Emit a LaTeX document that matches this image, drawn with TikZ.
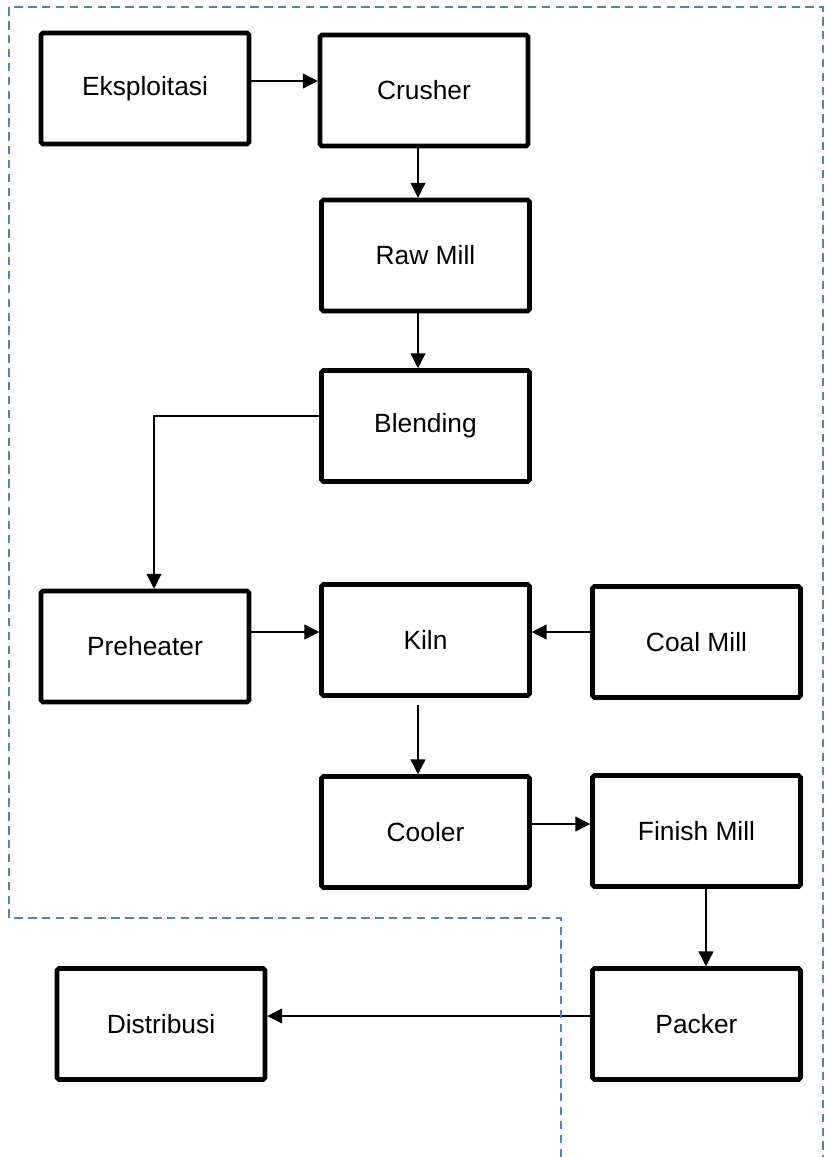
\documentclass[tikz,border=0pt]{standalone}
\usepackage{fontspec}
\setmainfont{Liberation Sans}
\usetikzlibrary{arrows.meta}
\definecolor{dashblue}{HTML}{4F81BD}

\begin{document}
\begin{tikzpicture}[x=0.02cm, y=-0.02cm,
    box/.style={draw, line width=2.6pt, rounded corners=1pt, minimum width=4.16cm,
                minimum height=2.22cm, inner sep=0pt, font=\fontsize{15}{18}\selectfont},
    arr/.style={-{Triangle[length=8.5pt,width=8.5pt]}, line width=0.8pt}]
\useasboundingbox (0,0) rectangle (826,1157);
%Place every step of the process as a box, then link them
% with arrows from box to box; the dashed line is the plant border
\node[box](eks) at (145,88.5){Eksploitasi};
\node[box](crush) at (424,90.5){Crusher};
\node[box](raw) at (425.5,255.5){Raw Mill};
\node[box](blend) at (425.5,426){Blending};
\node[box](pre) at (145,646.5){Preheater};
\node[box](kiln) at (425.5,640){Kiln};
\node[box](coal) at (696.5,642){Coal Mill};
\node[box](cool) at (425.5,832){Cooler};
\node[box](fin) at (696.5,831){Finish Mill};
\node[box](pack) at (696.5,1024){Packer};
\node[box](dist) at (161,1024){Distribusi};

\draw[arr] ([yshift=0.15cm]eks.east) -- ([yshift=0.15cm]eks.east -| crush.west);
\draw[arr] ([xshift=-0.12cm]crush.south) -- ([xshift=-0.12cm]crush.south |- raw.north);
\draw[arr] ([xshift=-0.15cm]raw.south) -- ([xshift=-0.15cm]raw.south |- blend.north);
\draw[arr, line width=0.6pt] ([yshift=0.2cm]blend.west) -| ([xshift=0.18cm]pre.north);
\draw[arr] ([yshift=0.29cm]pre.east) -- ([yshift=0.29cm]pre.east -| kiln.west);
\draw[arr] ([yshift=0.2cm]coal.west) -- ([yshift=0.2cm]coal.west -| kiln.east);
\draw[arr] ([xshift=-0.15cm,yshift=-0.14cm]kiln.south) -- ([xshift=-0.15cm]kiln.south |- cool.north);
\draw[arr] ([yshift=0.16cm]cool.east) -- ([yshift=0.16cm]cool.east -| fin.west);
\draw[arr] ([xshift=0.19cm]fin.south) -- ([xshift=0.19cm]fin.south |- pack.north);
\draw[arr] ([yshift=0.16cm]pack.west) -- ([yshift=0.16cm]pack.west -| dist.east);

%plant border
\draw[dashblue, line width=1.3pt, dash pattern=on 4.8pt off 3.1pt]
    (561,1157) -- (561,918) -- (9,918) -- (9,7) -- (823,7) -- (823,1157);
\end{tikzpicture}
\end{document}
